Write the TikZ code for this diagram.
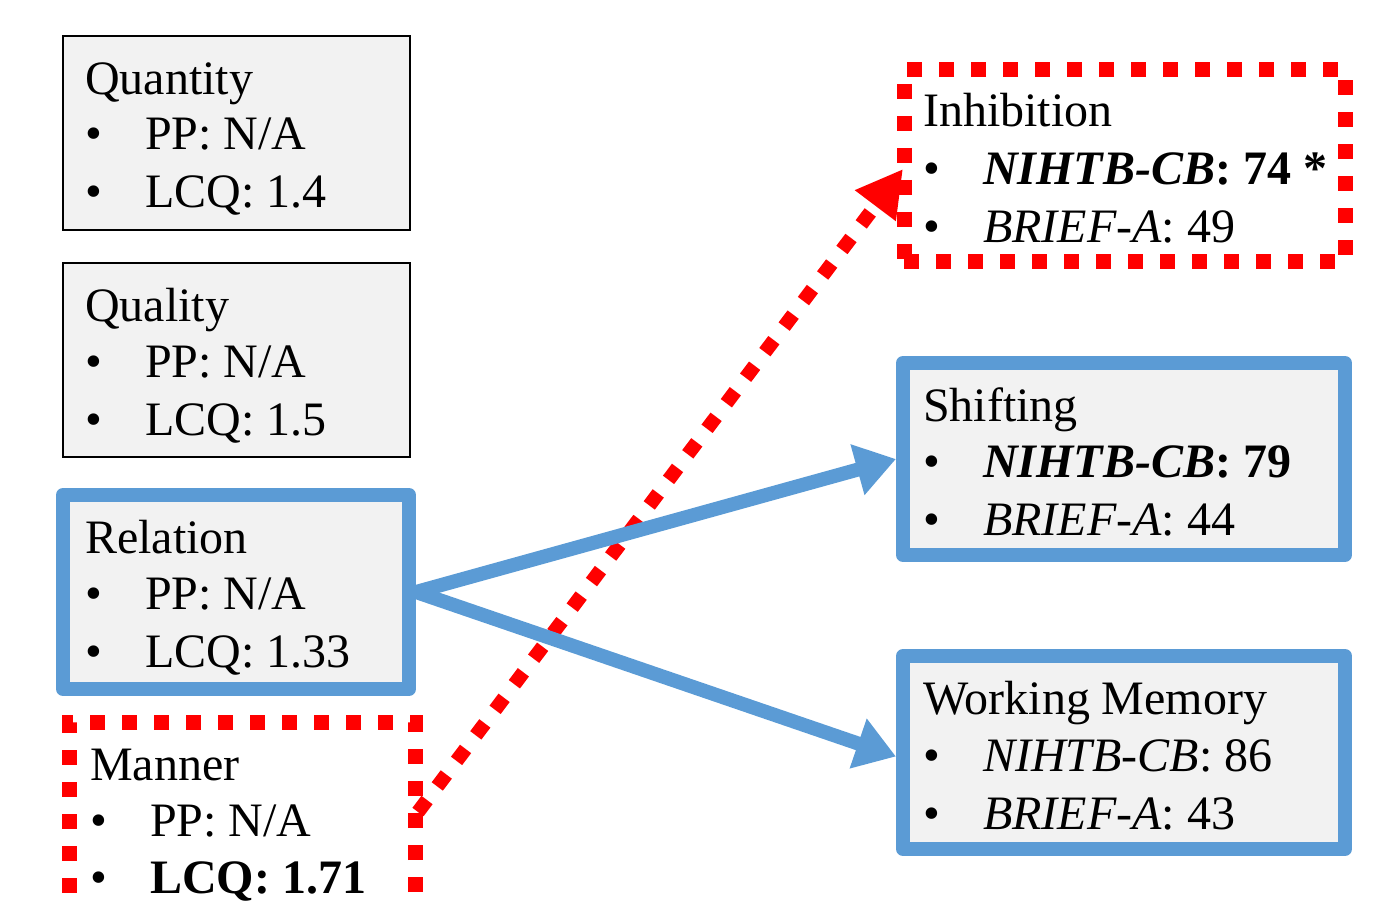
\documentclass[tikz,border=0pt]{standalone}
\usepackage{fontspec}
\setmainfont{Liberation Serif}
\usetikzlibrary{arrows.meta}
\definecolor{boxblue}{HTML}{5B9BD5}
\definecolor{boxgray}{HTML}{F2F2F2}
\definecolor{hired}{HTML}{FF0000}
\begin{document}
\begin{tikzpicture}[x=1pt,y=-1pt,
  plainbox/.style={draw=black, line width=2pt, fill=boxgray, rectangle, inner sep=0pt},
  bluebox/.style={draw=boxblue, line width=14pt, fill=boxgray, line join=round, rectangle, inner sep=0pt},
  redbox/.style={draw=hired, line width=15pt, dash pattern=on 15pt off 17pt, rectangle, inner sep=0pt},
  txt/.style={anchor=base west, inner sep=0pt, font=\fontsize{48}{58}\selectfont},
  bluearrow/.style={draw=boxblue, line width=14pt, -{Triangle[length=40pt,width=50pt]}},
  redarrow/.style={draw=hired, line width=14pt, dash pattern=on 15pt off 17pt, -{Triangle[length=46pt,width=48pt]}},
]
\useasboundingbox (0,0) rectangle (1384,901);
\clip (0,0) rectangle (1384,901);
\newcommand{\bul}[1]{\makebox[60pt][l]{•}#1}

% boxes
\node[plainbox, minimum width=347pt, minimum height=194pt] (qn) at (236.5,133) {};
\node[plainbox, minimum width=347pt, minimum height=194pt] (ql) at (236.5,360) {};
\node[bluebox, minimum width=346pt, minimum height=194pt] (rel) at (236,592) {};
\node[redbox, minimum width=346pt, minimum height=208pt] (man) at (242,826) {};
\node[redbox, minimum width=441pt, minimum height=192pt] (inh) at (1124.5,166) {};
\node[bluebox, minimum width=442pt, minimum height=192pt] (shf) at (1124,459) {};
\node[bluebox, minimum width=442pt, minimum height=193pt] (wm) at (1124,752.5) {};

% connectors
\draw[redarrow] ([shift={(-4.5,-14)}]man.east) -- ([shift={(6.5,3)}]inh.west);
\draw[bluearrow] (rel.east) -- (shf.west);
\draw[bluearrow] (rel.east) -- ([yshift=-4pt]wm.west);

% texts
\node[txt] (qn-t) at (85,95) {Quantity};
\node[txt] (qn-a) at (85,150) {\bul{PP: N/A}};
\node[txt] (qn-b) at (85,208) {\bul{LCQ: 1.4}};

\node[txt] (ql-t) at (85,322) {Quality};
\node[txt] (ql-a) at (85,377) {\bul{PP: N/A}};
\node[txt] (ql-b) at (85,435) {\bul{LCQ: 1.5}};

\node[txt] (rel-t) at (85,553) {Relation};
\node[txt] (rel-a) at (85,609) {\bul{PP: N/A}};
\node[txt] (rel-b) at (85,667) {\bul{LCQ: 1.33}};

\node[txt] (man-t) at (90,780) {Manner};
\node[txt] (man-a) at (90,836) {\bul{PP: N/A}};
\node[txt] (man-b) at (90,893) {\bul{\textbf{LCQ: 1.71}}};

\node[txt] (inh-t) at (923,127) {Inhibition};
\node[txt] (inh-a) at (923,185) {\bul{\textbf{\textit{NIHTB-CB}: 74 *}}};
\node[txt] (inh-b) at (923,243) {\bul{\textit{BRIEF-A}: 49}};

\node[txt] (shf-t) at (923,421) {Shifting};
\node[txt] (shf-a) at (923,477) {\bul{\textbf{\textit{NIHTB-CB}: 79}}};
\node[txt] (shf-b) at (923,535) {\bul{\textit{BRIEF-A}: 44}};

\node[txt] (wm-t) at (923,714) {Working Memory};
\node[txt] (wm-a) at (923,771) {\bul{\textit{NIHTB-CB}: 86}};
\node[txt] (wm-b) at (923,829) {\bul{\textit{BRIEF-A}: 43}};
\end{tikzpicture}
\end{document}
